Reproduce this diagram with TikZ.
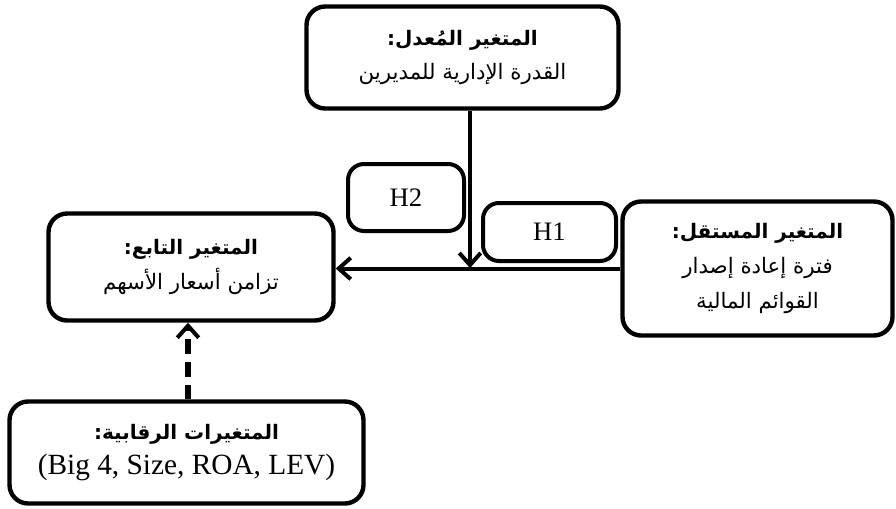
\documentclass[tikz,border=0pt]{standalone}
\usepackage{fontspec}
\setmainfont{Liberation Serif}
\newfontfamily\arabicfont[Script=Arabic]{DejaVu Sans}
\TeXXeTstate=1
\usetikzlibrary{arrows.meta}
\newcommand{\ar}[1]{{\arabicfont\beginR #1\endR}}
\newcommand{\arb}[1]{{\arabicfont\bfseries\fontsize{15}{25}\selectfont\beginR #1\endR}}
\begin{document}
\begin{tikzpicture}[x=0.75pt,y=-0.75pt,
  box/.style={draw=black,line width=3.3pt,rounded corners=14pt,fill=white,align=center,inner sep=0pt,
    font=\fontsize{16}{26}\selectfont},
  hbox/.style={draw=black,line width=3pt,rounded corners=12pt,fill=white,inner sep=0pt,
    font=\fontsize{20}{22}\selectfont},
  arr/.style={line width=3pt,-{Straight Barb[length=9pt,width=16pt,line width=3pt]}},
  darr/.style={line width=3.8pt,dash pattern=on 11pt off 6pt,-{Straight Barb[length=9pt,width=16pt,line width=3pt]}}]
\useasboundingbox (0,0) rectangle (896,508);
\node[box,minimum width=0.75*312pt,minimum height=0.75*102pt] (top) at (462.5,57.5)
  {\arb{المتغير المُعدل:}\\ \ar{القدرة الإدارية للمديرين}};
\node[box,minimum width=0.75*285pt,minimum height=0.75*107pt] (dep) at (191,267)
  {\arb{المتغير التابع:}\\ \ar{تزامن أسعار الأسهم}};
\node[box,minimum width=0.75*270pt,minimum height=0.75*134pt] (ind) at (757.5,268.5)
  {\arb{المتغير المستقل:}\\ \ar{فترة إعادة إصدار}\\ \ar{القوائم المالية}};
\node[box,minimum width=0.75*354pt,minimum height=0.75*102pt] (ctl) at (186.5,452.5)
  {\arb{المتغيرات الرقابية:}\\ {\fontsize{22}{26}\selectfont (Big 4, Size, ROA, LEV)}};
\node[hbox,minimum width=0.75*116pt,minimum height=0.75*67pt] (h2) at (406,197.5) {H2};
\node[hbox,minimum width=0.75*133pt,minimum height=0.75*58pt] (h1) at (549.5,232) {H1};
\coordinate (m) at (470,268);
\draw[arr] (ind.west) -- (dep.east |- ind.west);
\draw[arr] (top.south -| m) -- (m);
\coordinate (d) at (188,0);
\draw[darr] (ctl.north -| d) -- (dep.south -| d);
\end{tikzpicture}
\end{document}
